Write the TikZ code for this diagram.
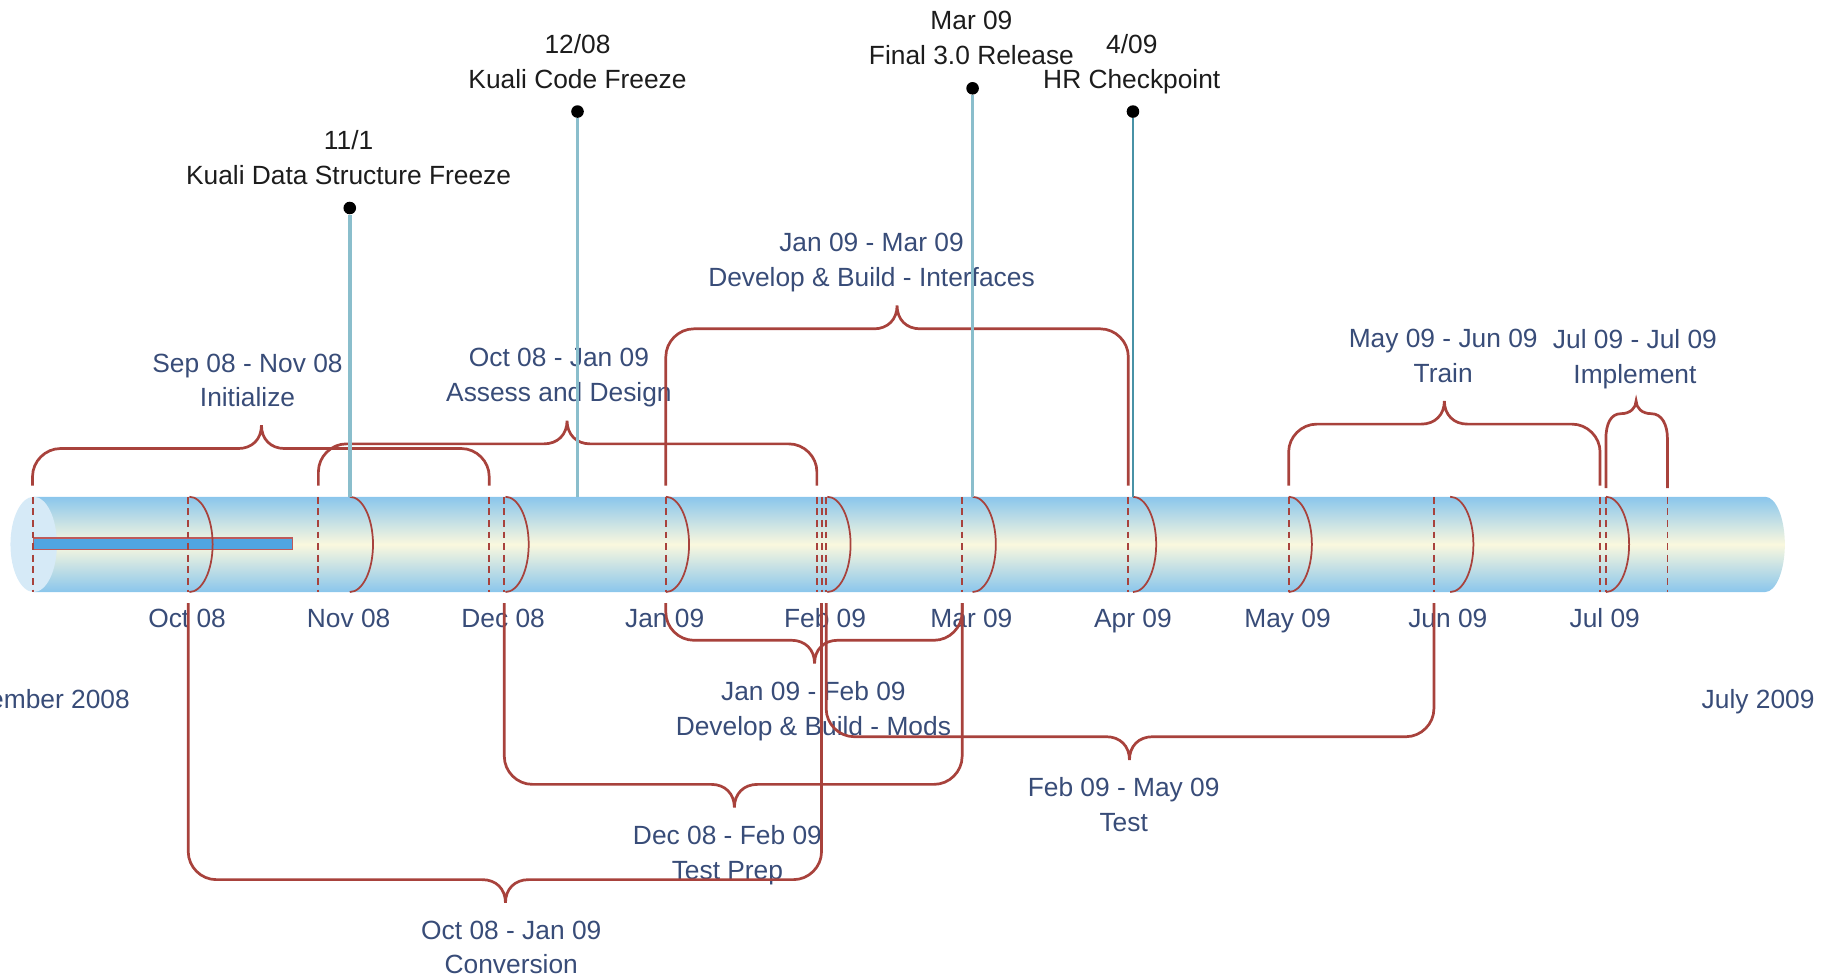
\documentclass[tikz,border=0pt]{standalone}
\usepackage{fontspec}
\setmainfont{Liberation Sans}
\usepackage{tikz}
\definecolor{spanred}{RGB}{168,66,60}
\definecolor{slateblue}{RGB}{56,76,120}
\definecolor{msgray}{RGB}{28,28,28}
\definecolor{teallight}{RGB}{138,190,204}
\definecolor{tealdark}{RGB}{72,146,166}
\definecolor{cylblue}{RGB}{138,198,236}
\definecolor{cylcream}{RGB}{250,248,222}
\definecolor{capblue}{RGB}{214,234,247}
\definecolor{barblue}{RGB}{80,165,225}
\definecolor{barrim}{RGB}{190,90,90}

\begin{document}
\begin{tikzpicture}[x=0.6pt,y=0.6pt]
\tikzstyle{every node}+=[inner sep=0pt, font=\fontsize{13.6}{18}\selectfont]
\tikzstyle{spanline}=[spanred, line width=1.4pt]
\tikzstyle{gapline}=[spanred, line width=1pt, dash pattern=on 3.5pt off 2.5pt]
\tikzstyle{montharc}=[spanred, line width=0.9pt]
\tikzstyle{msline}=[teallight, line width=1.8pt]
\tikzstyle{msdot}=[circle, fill=black, minimum size=6.5pt]
\tikzstyle{monthtext}=[text=slateblue, anchor=base]
\tikzstyle{spantext}=[text=slateblue, align=center, anchor=north]
\tikzstyle{mstext}=[text=msgray, align=center, anchor=north]
\useasboundingbox (0,0) rectangle (1568,-841);
% the tube
\shade[top color=cylblue, bottom color=cylblue, middle color=cylcream] (29,-427.5) -- (1519,-427.5) arc (90:-90:17 and 41) -- (29,-509.5) -- cycle;
\fill[capblue] (29,-468.5) ellipse (20 and 41);
\draw[fill=barblue, draw=barrim, line width=0.6pt] (29,-463) rectangle (252,-473);
% span ends across the tube
\draw[gapline] (28,-427.5) -- (28,-509.5) (162,-427.5) -- (162,-509.5) (274,-427.5) -- (274,-509.5)
  (421,-427.5) -- (421,-509.5) (434,-427.5) -- (434,-509.5) (573,-427.5) -- (573,-509.5)
  (703,-427.5) -- (703,-509.5) (707,-427.5) -- (707,-509.5) (711,-427.5) -- (711,-509.5)
  (828,-427.5) -- (828,-509.5) (971,-427.5) -- (971,-509.5) (1109,-427.5) -- (1109,-509.5)
  (1234,-427.5) -- (1234,-509.5) (1377,-427.5) -- (1377,-509.5) (1382,-427.5) -- (1382,-509.5)
  (1435,-427.5) -- (1435,-509.5);
% month rings
\draw[montharc] (163,-427.5) arc (90:-90:20 and 41);
\draw[montharc] (301,-427.5) arc (90:-90:20 and 41);
\draw[montharc] (435,-427.5) arc (90:-90:20 and 41);
\draw[montharc] (573,-427.5) arc (90:-90:20 and 41);
\draw[montharc] (712,-427.5) arc (90:-90:20 and 41);
\draw[montharc] (837,-427.5) arc (90:-90:20 and 41);
\draw[montharc] (975,-427.5) arc (90:-90:20 and 41);
\draw[montharc] (1109,-427.5) arc (90:-90:20 and 41);
\draw[montharc] (1248,-427.5) arc (90:-90:20 and 41);
\draw[montharc] (1382,-427.5) arc (90:-90:20 and 41);
% month labels
\node[monthtext] (oct) at (161,-540) {Oct 08};
\node[monthtext] (nov) at (300,-540) {Nov 08};
\node[monthtext] (dec) at (433,-540) {Dec 08};
\node[monthtext] (jan) at (572,-540) {Jan 09};
\node[monthtext] (feb) at (710,-540) {Feb 09};
\node[monthtext] (mar) at (836,-540) {Mar 09};
\node[monthtext] (apr) at (975,-540) {Apr 09};
\node[monthtext] (may) at (1108,-540) {May 09};
\node[monthtext] (jun) at (1246,-540) {Jun 09};
\node[monthtext] (jul) at (1381,-540) {Jul 09};
\node[monthtext, anchor=base east] (start) at (112,-610) {September 2008};
\node[monthtext] (finish) at (1513,-610) {July 2009};
% span labels
\node[spantext] (initialize) at (213,-304) {Sep 08 - Nov 08\\Initialize};
\node[spantext] (assess) at (481,-299) {Oct 08 - Jan 09\\Assess and Design};
\node[spantext] (interfaces) at (750,-200) {Jan 09 - Mar 09\\Develop \& Build - Interfaces};
\node[spantext] (train) at (1242,-283) {May 09 - Jun 09\\Train};
\node[spantext] (implement) at (1407,-283) {Jul 09 - Jul 09\\Implement};
\node[spantext] (mods) at (700,-586) {Jan 09 - Feb 09\\Develop \& Build - Mods};
\node[spantext] (testprep) at (626,-710) {Dec 08 - Feb 09\\Test Prep};
\node[spantext] (conversion) at (440,-792) {Oct 08 - Jan 09\\Conversion};
\node[spantext] (test) at (967,-669) {Feb 09 - May 09\\Test};
% spans above the tube
\draw[spanline] (28,-418) -- (28,-410) .. controls (28,-397) and (39,-386) .. (52,-386) -- (205,-386) .. controls (217,-386) and (225,-378) .. (225,-366) .. controls (225,-378) and (233,-386) .. (245,-386) -- (397,-386) .. controls (410,-386) and (421,-397) .. (421,-410) -- (421,-418);
\draw[spanline] (274,-418) -- (274,-406) .. controls (274,-393) and (285,-382) .. (298,-382) -- (468,-382) .. controls (480,-382) and (488,-374) .. (488,-362) .. controls (488,-374) and (496,-382) .. (508,-382) -- (679,-382) .. controls (692,-382) and (703,-393) .. (703,-406) -- (703,-418);
\draw[spanline] (573,-418) -- (573,-307) .. controls (573,-294) and (584,-283) .. (597,-283) -- (752,-283) .. controls (764,-283) and (772,-275) .. (772,-263) .. controls (772,-275) and (780,-283) .. (792,-283) -- (947,-283) .. controls (960,-283) and (971,-294) .. (971,-307) -- (971,-418);
\draw[spanline] (1109,-418) -- (1109,-389) .. controls (1109,-376) and (1120,-365) .. (1133,-365) -- (1223,-365) .. controls (1235,-365) and (1243,-357) .. (1243,-345) .. controls (1243,-357) and (1251,-365) .. (1263,-365) -- (1353,-365) .. controls (1366,-365) and (1377,-376) .. (1377,-389) -- (1377,-418);
\draw[spanline] (1382,-420) -- (1382,-378) .. controls (1382,-365) and (1386,-356) .. (1395,-356) .. controls (1403,-356) and (1408,-351) .. (1408,-345) .. controls (1408,-351) and (1413,-356) .. (1421,-356) .. controls (1430,-356) and (1435,-365) .. (1435,-378) -- (1435,-420);
% spans below the tube
\draw[spanline] (573,-519) -- (573,-527) .. controls (573,-540) and (584,-551) .. (597,-551) -- (681,-551) .. controls (693,-551) and (701,-559) .. (701,-571) .. controls (701,-559) and (709,-551) .. (721,-551) -- (804,-551) .. controls (817,-551) and (828,-540) .. (828,-527) -- (828,-519);
\draw[spanline] (434,-519) -- (434,-651) .. controls (434,-664) and (445,-675) .. (458,-675) -- (612,-675) .. controls (624,-675) and (632,-683) .. (632,-695) .. controls (632,-683) and (640,-675) .. (652,-675) -- (804,-675) .. controls (817,-675) and (828,-664) .. (828,-651) -- (828,-519);
\draw[spanline] (162,-519) -- (162,-733) .. controls (162,-746) and (173,-757) .. (186,-757) -- (415,-757) .. controls (427,-757) and (435,-765) .. (435,-777) .. controls (435,-765) and (443,-757) .. (455,-757) -- (683,-757) .. controls (696,-757) and (707,-746) .. (707,-733) -- (707,-519);
\draw[spanline] (711,-519) -- (711,-610) .. controls (711,-623) and (722,-634) .. (735,-634) -- (952,-634) .. controls (964,-634) and (972,-642) .. (972,-654) .. controls (972,-642) and (980,-634) .. (992,-634) -- (1210,-634) .. controls (1223,-634) and (1234,-623) .. (1234,-610) -- (1234,-519);
% milestones
\coordinate (dsfbase) at (301,-427.5);
\coordinate (cfbase) at (497,-427.5);
\coordinate (relbase) at (837,-427.5);
\coordinate (hrbase) at (975,-427.5);
\node[msdot] (dsf) at (301,-179) {};
\node[msdot] (cf) at (497,-96) {};
\node[msdot] (rel) at (837,-76) {};
\node[msdot] (hr) at (975,-96) {};
\draw[msline] (dsf) -- (dsfbase);
\draw[msline] (cf) -- (cfbase);
\draw[msline] (rel) -- (relbase);
\draw[msline, tealdark, line width=1.3pt] (hr) -- (hrbase);
\node[mstext] (dsftext) at (300,-112) {11/1\\Kuali Data Structure Freeze};
\node[mstext] (cftext) at (497,-29) {12/08\\Kuali Code Freeze};
\node[mstext] (reltext) at (836,-9) {Mar 09\\Final 3.0 Release};
\node[mstext] (hrtext) at (974,-29) {4/09\\HR Checkpoint};
\end{tikzpicture}
\end{document}
